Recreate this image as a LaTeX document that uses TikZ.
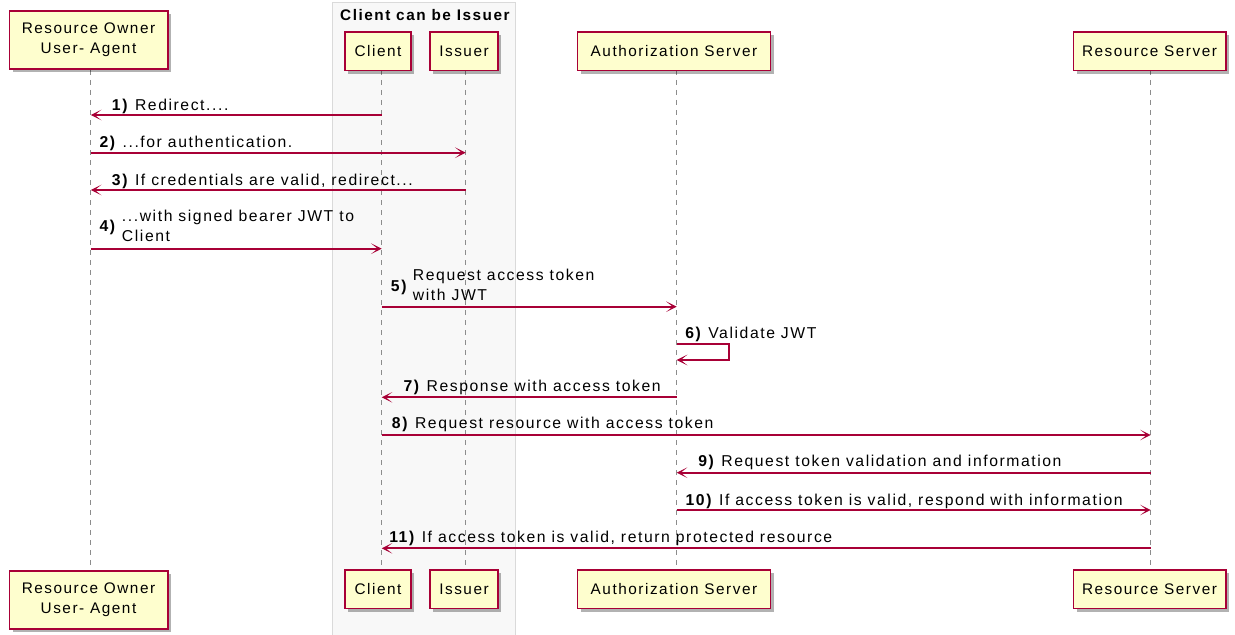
\documentclass[tikz,border=0pt]{standalone}
\usepackage{fontspec}
\setmainfont{Liberation Sans}[LetterSpace=10]
\usetikzlibrary{arrows.meta,shadows}
\definecolor{pborder}{RGB}{168,0,54}
\definecolor{pfill}{RGB}{254,254,206}
\definecolor{gfill}{RGB}{248,248,248}
\definecolor{gline}{RGB}{218,218,218}
\definecolor{lifec}{RGB}{140,140,140}
\begin{document}
\begin{tikzpicture}[x=0.75pt,y=-0.75pt,
  font=\fontsize{11.5pt}{15pt}\selectfont,
  actor/.style={draw=pborder,fill=pfill,line width=1.2pt,inner sep=0pt,align=center,
    drop shadow={shadow xshift=2.5pt,shadow yshift=-2.5pt,opacity=0.3,fill=black}},
  life/.style={draw=lifec,line width=0.75pt,dash pattern=on 3.75pt off 3.75pt},
  msg/.style={draw=pborder,line width=1.3pt,-{Stealth[length=8pt,width=8pt,inset=5pt]}},
  lbl/.style={anchor=base west,inner sep=0pt,font=\fontsize{11.8pt}{15pt}\selectfont}]
\clip (0,0) rectangle (1235,635);
\fill[white] (0,0) rectangle (1235,635);
% group
\draw[fill=gfill,draw=gline,line width=0.75pt] (332.7,3) rectangle (515.7,660);
\node[anchor=base,inner sep=0pt,font=\fontsize{11.5pt}{15pt}\selectfont\bfseries] (gt) at (424.9,20.7) {Client can be Issuer};
% lifeline x positions
\coordinate (lro) at (90.8,0);
\coordinate (lcl) at (381.7,0);
\coordinate (lis) at (465.7,0);
\coordinate (lau) at (676.7,0);
\coordinate (lrs) at (1150.7,0);
% lifelines (drawn first, boxes cover ends)
\coordinate (topy) at (0,70);
\coordinate (boty) at (0,571);
\foreach \l in {lro,lcl,lis,lau,lrs}{\draw[life] (\l |- topy) -- (\l |- boty);}
% top boxes
\node[actor,minimum width=118.8pt,minimum height=43.5pt] (ro) at (88.5,40) {Resource Owner\\User- Agent};
\node[actor,minimum width=49.5pt,minimum height=29pt] (cl) at (378,51.2) {Client};
\node[actor,minimum width=51pt,minimum height=29pt] (is) at (464,51.2) {Issuer};
\node[actor,minimum width=145pt,minimum height=29pt] (au) at (674,51.2) {Authorization Server};
\node[actor,minimum width=114.3pt,minimum height=29pt] (rs) at (1149.5,51.2) {Resource Server};
% bottom boxes
\node[actor,minimum width=118.8pt,minimum height=43.5pt] (rob) at (88.5,599.7) {Resource Owner\\User- Agent};
\node[actor,minimum width=49.5pt,minimum height=29pt] (clb) at (378,589.3) {Client};
\node[actor,minimum width=51pt,minimum height=29pt] (isb) at (464,589.3) {Issuer};
\node[actor,minimum width=145pt,minimum height=29pt] (aub) at (674,589.3) {Authorization Server};
\node[actor,minimum width=114.3pt,minimum height=29pt] (rsb) at (1149.5,589.3) {Resource Server};
% message rows
\coordinate (m1) at (0,115);
\coordinate (m2) at (0,152.7);
\coordinate (m3) at (0,190);
\coordinate (m4) at (0,248.7);
\coordinate (m5) at (0,306.7);
\coordinate (m6) at (0,344);
\coordinate (m6b) at (0,360);
\coordinate (m7) at (0,397.3);
\coordinate (m8) at (0,435);
\coordinate (m9) at (0,472.7);
\coordinate (m10) at (0,510);
\coordinate (m11) at (0,548.3);
% arrows
\draw[msg] (lcl |- m1) -- (lro |- m1);
\draw[msg] (lro |- m2) -- (lis |- m2);
\draw[msg] (lis |- m3) -- (lro |- m3);
\draw[msg] (lro |- m4) -- (lcl |- m4);
\draw[msg] (lcl |- m5) -- (lau |- m5);
\draw[msg] (lau |- m6) -- ([xshift=39pt]lau |- m6) -- ([xshift=39pt]lau |- m6b) -- (lau |- m6b);
\draw[msg] (lau |- m7) -- (lcl |- m7);
\draw[msg] (lcl |- m8) -- (lrs |- m8);
\draw[msg] (lrs |- m9) -- (lau |- m9);
\draw[msg] (lau |- m10) -- (lrs |- m10);
\draw[msg] (lrs |- m11) -- (lcl |- m11);
% labels
\node[lbl] (t1) at (111.7,110.7) {\textbf{1)} Redirect....};
\node[lbl] (t2) at (99.3,147) {\textbf{2)} ...for authentication.};
\node[lbl] (t3) at (111.7,185) {\textbf{3)} If credentials are valid, redirect...};
\node[lbl] (n4) at (99.3,231.7) {\textbf{4)}};
\node[lbl] (t4a) at (121.7,221.7) {...with signed bearer JWT to};
\node[lbl] (t4b) at (121.7,241.7) {Client};
\node[lbl] (n5) at (390.7,291.7) {\textbf{5)}};
\node[lbl] (t5a) at (412.7,280) {Request access token};
\node[lbl] (t5b) at (412.7,300.7) {with JWT};
\node[lbl] (t6) at (685,338.3) {\textbf{6)} Validate JWT};
\node[lbl] (t7) at (403.3,391.7) {\textbf{7)} Response with access token};
\node[lbl] (t8) at (391.7,428.3) {\textbf{8)} Request resource with access token};
\node[lbl] (t9) at (698,466.7) {\textbf{9)} Request token validation and information};
\node[lbl] (t10) at (685.4,505) {\textbf{10)} If access token is valid, respond with information};
\node[lbl] (t11) at (389,542.3) {\textbf{11)} If access token is valid, return protected resource};
\end{tikzpicture}
\end{document}
